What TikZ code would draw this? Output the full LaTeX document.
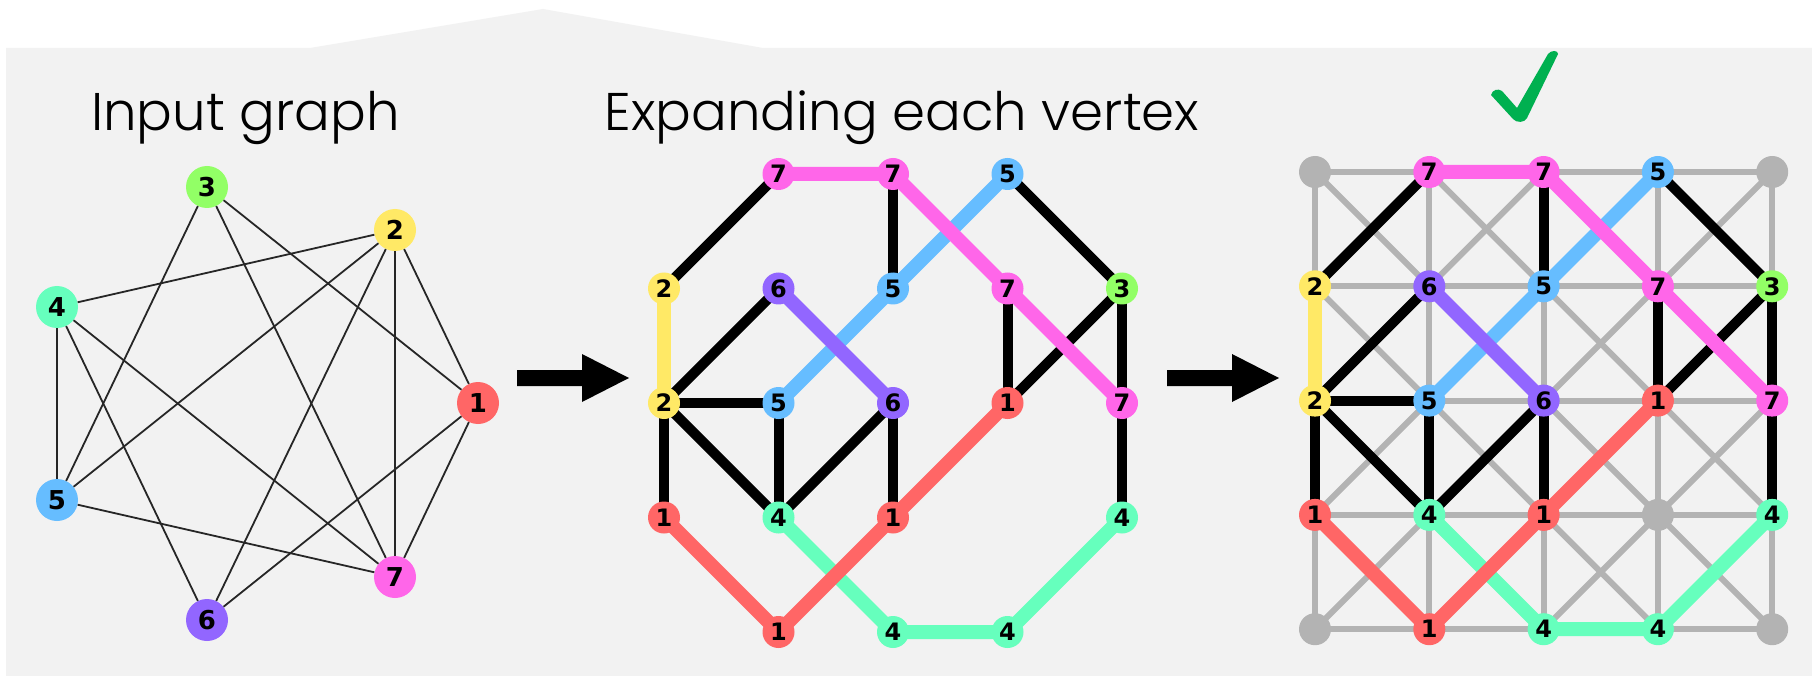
\documentclass[tikz,border=0pt]{standalone}
\usepackage{fontspec}
\newfontfamily\titlefont{Poppins}[UprightFont=* Light]
\newfontfamily\labelfont{DejaVu Sans}

\pgfdeclarelayer{paper}
\pgfdeclarelayer{grid}
\pgfdeclarelayer{links}
\pgfdeclarelayer{chains}
\pgfsetlayers{paper,grid,links,chains,main}

% one colour per input vertex
\definecolor{v1}{HTML}{FF6666}
\definecolor{v2}{HTML}{FFE966}
\definecolor{v3}{HTML}{92FF66}
\definecolor{v4}{HTML}{66FFBD}
\definecolor{v5}{HTML}{66BDFF}
\definecolor{v6}{HTML}{9266FF}
\definecolor{v7}{HTML}{FF66E9}
\definecolor{free}{HTML}{B3B3B3}
\definecolor{panel}{HTML}{F2F2F2}
\definecolor{tick}{HTML}{00B050}

\begin{document}
\begin{tikzpicture}[x=1pt, y=-1pt,
    vertex/.style={circle, fill=#1, minimum size=42pt, inner sep=0pt,
        font=\labelfont\bfseries\fontsize{26}{26}\selectfont},
    edge/.style={line width=1.8pt, black!85},
    cell/.style={circle, fill=#1, minimum size=32pt, inner sep=0pt,
        font=\labelfont\bfseries\fontsize{24}{24}\selectfont},
    link/.style={line width=10pt, black},
    chain/.style={line width=14pt, draw=#1},
    grid/.style={line width=6pt, free},
    title/.style={anchor=base, font=\titlefont\fontsize{53}{53}\selectfont}
]
    \useasboundingbox (0,0) rectangle (1812,676);
    \begin{pgfonlayer}{paper}
        \fill[white] (0,0) rectangle (1812,676);
        \fill[panel] (6,48) -- (310,48) -- (543,9) -- (763,48) -- (1812,48)
            -- (1812,676) -- (6,676) -- cycle;
    \end{pgfonlayer}

    \node[title] (t1) at (245.5,131) {Input graph};
    \node[title] (t2) at (902,131) {Expanding each vertex};

    % input graph
    \node[vertex=v1] (n1) at (478,403) {1};
    \node[vertex=v2] (n2) at (395,230) {2};
    \node[vertex=v3] (n3) at (207,187) {3};
    \node[vertex=v4] (n4) at (57,307) {4};
    \node[vertex=v5] (n5) at (57,500) {5};
    \node[vertex=v6] (n6) at (207,620) {6};
    \node[vertex=v7] (n7) at (395,577) {7};
    \draw[edge] (n3) -- (n5);
    \draw[edge] (n3) -- (n7);
    \draw[edge] (n3) -- (n1);
    \draw[edge] (n2) -- (n4);
    \draw[edge] (n2) -- (n5);
    \draw[edge] (n2) -- (n6);
    \draw[edge] (n2) -- (n7);
    \draw[edge] (n2) -- (n1);
    \draw[edge] (n4) -- (n5);
    \draw[edge] (n4) -- (n6);
    \draw[edge] (n4) -- (n7);
    \draw[edge] (n1) -- (n6);
    \draw[edge] (n1) -- (n7);
    \draw[edge] (n5) -- (n7);

    % arrows between the panels
    \fill (517,370) -- (582,370) -- (582,354) -- (629,378) -- (582,402)
        -- (582,386) -- (517,386) -- cycle;
    \fill (1167,370) -- (1232,370) -- (1232,354) -- (1279,378) -- (1232,402)
        -- (1232,386) -- (1167,386) -- cycle;

    % tick over the grid
    \fill[tick] (1491,95) .. controls (1492,90) and (1498,88) .. (1502,91)
        -- (1517,108) -- (1548,54) .. controls (1551,50) and (1558,50) .. (1558,54)
        -- (1527,118) .. controls (1525,123) and (1516,123) .. (1513,119) -- cycle;

    % expanded graph (b) and its grid embedding (c)
    \foreach \p/\ox/\oy/\d in {b/664/174/114.5, c/1315/172/114.3} {
    \begin{scope}[shift={(\ox,\oy)}, x=\d pt, y=-\d pt]
        \node[cell=v7] (\p10) at (1,0) {7};
        \node[cell=v7] (\p20) at (2,0) {7};
        \node[cell=v5] (\p30) at (3,0) {5};
        \node[cell=v2] (\p01) at (0,1) {2};
        \node[cell=v6] (\p11) at (1,1) {6};
        \node[cell=v5] (\p21) at (2,1) {5};
        \node[cell=v7] (\p31) at (3,1) {7};
        \node[cell=v3] (\p41) at (4,1) {3};
        \node[cell=v2] (\p02) at (0,2) {2};
        \node[cell=v5] (\p12) at (1,2) {5};
        \node[cell=v6] (\p22) at (2,2) {6};
        \node[cell=v1] (\p32) at (3,2) {1};
        \node[cell=v7] (\p42) at (4,2) {7};
        \node[cell=v1] (\p03) at (0,3) {1};
        \node[cell=v4] (\p13) at (1,3) {4};
        \node[cell=v1] (\p23) at (2,3) {1};
        \node[cell=v4] (\p43) at (4,3) {4};
        \node[cell=v1] (\p14) at (1,4) {1};
        \node[cell=v4] (\p24) at (2,4) {4};
        \node[cell=v4] (\p34) at (3,4) {4};
        \begin{pgfonlayer}{links}
            \draw[link] (\p10.center) -- (\p01.center);
            \draw[link] (\p20.center) -- (\p21.center);
            \draw[link] (\p30.center) -- (\p41.center);
            \draw[link] (\p11.center) -- (\p02.center);
            \draw[link] (\p02.center) -- (\p12.center);
            \draw[link] (\p02.center) -- (\p03.center);
            \draw[link] (\p02.center) -- (\p13.center);
            \draw[link] (\p12.center) -- (\p13.center);
            \draw[link] (\p22.center) -- (\p13.center);
            \draw[link] (\p22.center) -- (\p23.center);
            \draw[link] (\p31.center) -- (\p32.center);
            \draw[link] (\p41.center) -- (\p32.center);
            \draw[link] (\p41.center) -- (\p42.center);
            \draw[link] (\p42.center) -- (\p43.center);
        \end{pgfonlayer}
        \begin{pgfonlayer}{chains}
            \draw[chain=v2] (\p01.center) -- (\p02.center);
            \draw[chain=v5] (\p30.center) -- (\p21.center) -- (\p12.center);
            \draw[chain=v6] (\p11.center) -- (\p22.center);
            \draw[chain=v7] (\p10.center) -- (\p20.center) -- (\p31.center) -- (\p42.center);
            \draw[chain=v4] (\p13.center) -- (\p24.center) -- (\p34.center) -- (\p43.center);
            \draw[chain=v1] (\p03.center) -- (\p14.center) -- (\p23.center) -- (\p32.center);
        \end{pgfonlayer}
    \end{scope}
    }

    % unused grid points
    \begin{scope}[shift={(1315,172)}, x=114.3pt, y=-114.3pt]
        \node[cell=free] (c00) at (0,0) {};
        \node[cell=free] (c40) at (4,0) {};
        \node[cell=free] (c33) at (3,3) {};
        \node[cell=free] (c04) at (0,4) {};
        \node[cell=free] (c44) at (4,4) {};
    \end{scope}

    % king's-move grid under the embedding
    \begin{pgfonlayer}{grid}
        \foreach \i in {0,...,4} {
            \foreach \j [count=\k from 1] in {0,...,3} {
                \draw[grid] (c\i\j.center) -- (c\i\k.center);
                \draw[grid] (c\j\i.center) -- (c\k\i.center);
            }
        }
        \foreach \i [count=\ii from 1] in {0,...,3} {
            \foreach \j [count=\jj from 1] in {0,...,3} {
                \draw[grid] (c\i\j.center) -- (c\ii\jj.center);
                \draw[grid] (c\ii\j.center) -- (c\i\jj.center);
            }
        }
    \end{pgfonlayer}
\end{tikzpicture}
\end{document}
